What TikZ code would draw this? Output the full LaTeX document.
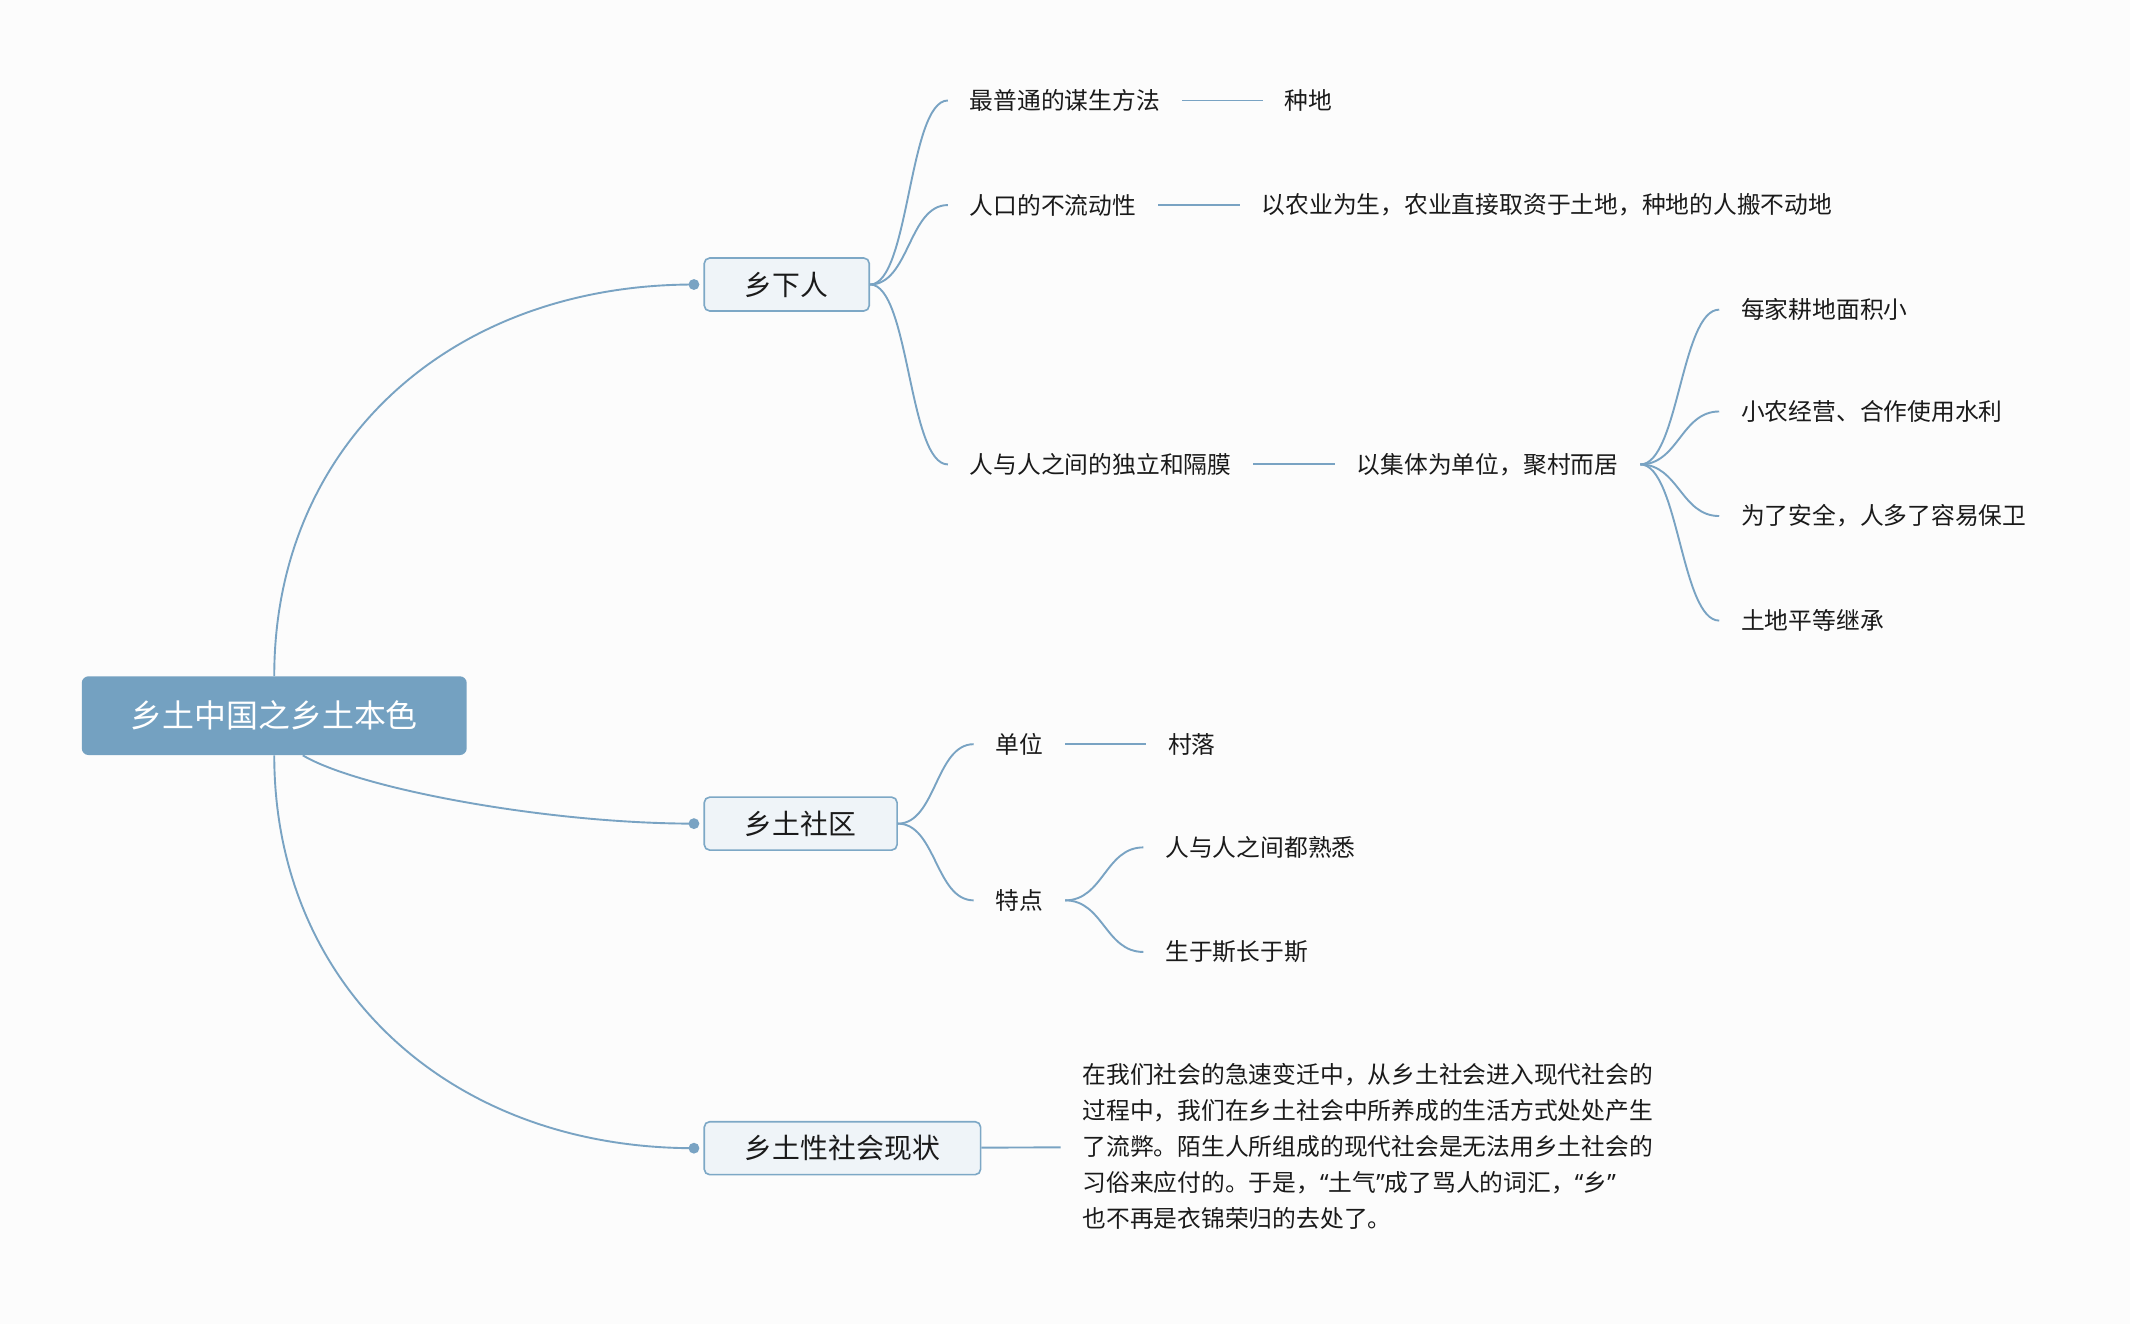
\documentclass[tikz,border=0pt]{standalone}
\usepackage{fontspec}
\setmainfont{Noto Sans CJK SC}
\newfontfamily\quotefont{Noto Sans}
\definecolor{paper}{HTML}{FCFCFC}
\definecolor{branch}{HTML}{79A3C3}
\definecolor{rootfill}{HTML}{74A1C1}
\definecolor{topicfill}{HTML}{EFF4F8}
\definecolor{topicline}{HTML}{7DA8C6}
\definecolor{ink}{HTML}{1A1A1A}
\def\lq{{\quotefont “}}
\def\rq{{\quotefont ”}}

\begin{document}
\begin{tikzpicture}[x=1pt, y=-1pt,
	rootbox/.style={fill=rootfill, rounded corners=5pt, minimum height=58pt, inner xsep=36pt, text=white, font=\fontsize{23.5}{28}\selectfont},
	topic/.style={draw=topicline, fill=topicfill, line width=1.2pt, rounded corners=4pt, minimum height=39pt, inner xsep=30pt, text=ink, font=\fontsize{20.5}{24}\selectfont},
	leaf/.style={anchor=west, inner xsep=16pt, inner ysep=2pt, text=ink, font=\fontsize{17.5}{21}\selectfont},
	link/.style={draw=branch, line width=1.4pt},
	dot/.style={circle, fill=branch, inner sep=0pt, minimum size=8pt}]
			%%%%% START %%%%%
			
			\path[use as bounding box, fill=paper] (0, 0) rectangle (1568.5, 975);
			
			\node[rootbox, anchor=west] (root) at (60, 527) {乡土中国之乡土本色};
			
			\node[topic, anchor=west] (xiaren) at (518, 209.5) {乡下人};
			\node[topic, anchor=west] (shequ) at (518, 606.5) {乡土社区};
			\node[topic, anchor=west] (xianzhuang) at (518, 845.5) {乡土性社会现状};
			
			\node[dot] (xiarendot) at ([xshift=-7pt]xiaren.west) {};
			\node[dot] (shequdot) at ([xshift=-7pt]shequ.west) {};
			\node[dot] (xianzhuangdot) at ([xshift=-7pt]xianzhuang.west) {};
			
			\draw[link] (root.north) .. controls +(0, -170) and +(-180, 0) .. (xiarendot.center);
			\draw[link] ([xshift=21pt]root.south) .. controls +(40, 24) and +(-110, 0) .. (shequdot.center);
			\draw[link] (root.south) .. controls +(0, 170) and +(-180, 0) .. (xianzhuangdot.center);
			
			%% xiaren
			\node[leaf] (mousheng) at (698, 74) {最普通的谋生方法};
			\node[leaf] (zhongdi) at (930, 74) {种地};
			\node[leaf] (liudong) at (698, 151) {人口的不流动性};
			\node[leaf] (nongye) at (913, 151) {以农业为生，农业直接取资于土地，种地的人搬不动地};
			\node[leaf] (gemo) at (698, 342) {人与人之间的独立和隔膜};
			\node[leaf] (juzhu) at (983, 342) {以集体为单位，聚村而居};
			
			\node[leaf] (gengdi) at (1266, 228) {每家耕地面积小};
			\node[leaf] (shuili) at (1266, 303) {小农经营、合作使用水利};
			\node[leaf] (anquan) at (1266, 380) {为了安全，人多了容易保卫};
			\node[leaf] (jicheng) at (1266, 457) {土地平等继承};
			
			\draw[link] (xiaren.east) .. controls +(29, 0) and +(-29, 0) .. (mousheng.west);
			\draw[link] (xiaren.east) .. controls +(29, 0) and +(-29, 0) .. (liudong.west);
			\draw[link] (xiaren.east) .. controls +(29, 0) and +(-29, 0) .. (gemo.west);
			\draw[link] (mousheng) -- (zhongdi);
			\draw[link] (liudong) -- (nongye);
			\draw[link] (gemo) -- (juzhu);
			
			\draw[link] (juzhu.east) .. controls +(28, 0) and +(-28, 0) .. (gengdi.west);
			\draw[link] (juzhu.east) .. controls +(28, 0) and +(-28, 0) .. (shuili.west);
			\draw[link] (juzhu.east) .. controls +(28, 0) and +(-28, 0) .. (anquan.west);
			\draw[link] (juzhu.east) .. controls +(28, 0) and +(-28, 0) .. (jicheng.west);
			
			%% shequ
			\node[leaf] (danwei) at (717, 548) {单位};
			\node[leaf] (cunluo) at (844, 548) {村落};
			\node[leaf] (tedian) at (717, 663) {特点};
			\node[leaf] (shuxi) at (842, 624) {人与人之间都熟悉};
			\node[leaf] (shengyu) at (842, 701) {生于斯长于斯};
			
			\draw[link] (shequ.east) .. controls +(28, 0) and +(-28, 0) .. (danwei.west);
			\draw[link] (shequ.east) .. controls +(28, 0) and +(-28, 0) .. (tedian.west);
			\draw[link] (danwei) -- (cunluo);
			\draw[link] (tedian.east) .. controls +(28, 0) and +(-28, 0) .. (shuxi.west);
			\draw[link] (tedian.east) .. controls +(28, 0) and +(-28, 0) .. (shengyu.west);
			
			%% xianzhuang
			\node[leaf, align=left, font=\fontsize{17.5}{26.6}\selectfont] (liubi) at (781, 844) {在我们社会的急速变迁中，从乡土社会进入现代社会的\\过程中，我们在乡土社会中所养成的生活方式处处产生\\了流弊。陌生人所组成的现代社会是无法用乡土社会的\\习俗来应付的。于是，\lq 土气\rq 成了骂人的词汇，\lq 乡\rq\\也不再是衣锦荣归的去处了。};
			\draw[link] (xianzhuang) -- (liubi);
			
			%%%%% END %%%%%
\end{tikzpicture}
\end{document}
